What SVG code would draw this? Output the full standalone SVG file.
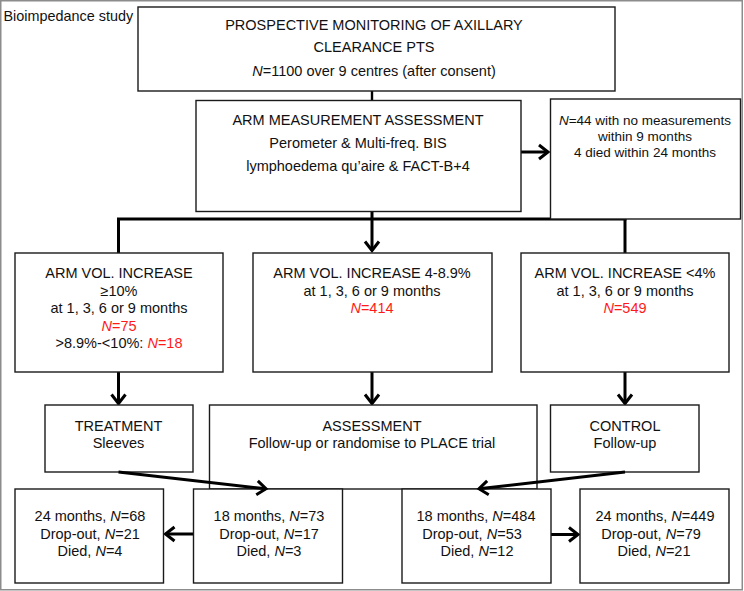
<svg xmlns="http://www.w3.org/2000/svg" width="744" height="591" viewBox="0 0 744 591">
<style>
.box{fill:#fff;stroke:#1a1a1a;stroke-width:1.4}
.t{font-family:"Liberation Sans",Arial,sans-serif;font-size:14.5px;fill:#111;text-anchor:middle}
.s{font-size:13.5px}
.r{fill:#ff1a1a}
.i{font-style:italic}
.c{fill:none;stroke:#000;stroke-width:3}
.c2{fill:none;stroke:#000;stroke-width:2.4}
</style>
<defs>
<marker id="ah" markerUnits="userSpaceOnUse" markerWidth="20" markerHeight="20" viewBox="-12 -10 14 20" refX="0" refY="0" orient="auto">
<path d="M-9,-7 L0,0 L-9,7" fill="none" stroke="#000" stroke-width="3"/>
</marker>
</defs>
<rect x="0.75" y="0.75" width="741.5" height="589" fill="#fff" stroke="#8c8c8c" stroke-width="1.5"/>
<text class="t" x="3.5" y="21" style="text-anchor:start;font-size:14.4px">Bioimpedance study</text>

<g id="connectors">
<line class="c2" x1="372" y1="91" x2="372" y2="100.5"/>
<line class="c" x1="521" y1="152" x2="548" y2="152" marker-end="url(#ah)"/>
<line class="c" x1="372" y1="211.5" x2="372" y2="250.5" marker-end="url(#ah)"/>
<line class="c" x1="117" y1="219" x2="626.5" y2="219"/>
<line class="c" x1="118.5" y1="219" x2="118.5" y2="253"/>
<line class="c" x1="625" y1="219" x2="625" y2="253"/>
<line class="c" x1="118.5" y1="372" x2="118.5" y2="403.5" marker-end="url(#ah)"/>
<line class="c" x1="372" y1="372" x2="372" y2="403.5" marker-end="url(#ah)"/>
<line class="c" x1="625" y1="372" x2="625" y2="403.5" marker-end="url(#ah)"/>
<line class="c" x1="193.5" y1="534" x2="165.5" y2="534" marker-end="url(#ah)"/>
<line class="c" x1="551" y1="534.5" x2="578" y2="534.5" marker-end="url(#ah)"/>
</g>

<g id="top">
<rect class="box" x="138" y="7" width="477" height="84"/>
<text class="t" x="374" y="29.5">PROSPECTIVE MONITORING OF AXILLARY</text>
<text class="t" x="374" y="52">CLEARANCE PTS</text>
<text class="t" x="374" y="76"><tspan class="i">N</tspan>=1100 over 9 centres (after consent)</text>
</g>

<g id="arm">
<rect class="box" x="196" y="100.5" width="325" height="111"/>
<text class="t" x="358" y="125">ARM MEASUREMENT ASSESSMENT</text>
<text class="t" x="358" y="148">Perometer &amp; Multi-freq. BIS</text>
<text class="t" x="358" y="170.5">lymphoedema qu’aire &amp; FACT-B+4</text>
</g>

<g id="nomeas">
<rect class="box" x="550.5" y="99" width="190" height="120"/>
<text class="t s" x="645" y="125"><tspan class="i">N</tspan>=44 with no measurements</text>
<text class="t s" x="645" y="141">within 9 months</text>
<text class="t s" x="645" y="157">4 died within 24 months</text>
</g>

<g id="inc10">
<rect class="box" x="15" y="253" width="208" height="119"/>
<text class="t" x="119" y="278">ARM VOL. INCREASE</text>
<text class="t" x="119" y="295.5">≥10%</text>
<text class="t" x="119" y="313">at 1, 3, 6 or 9 months</text>
<text class="t r" x="119" y="330.5"><tspan class="i">N</tspan>=75</text>
<text class="t" x="119" y="348">&gt;8.9%-&lt;10%: <tspan class="r"><tspan class="i">N</tspan>=18</tspan></text>
</g>

<g id="inc4">
<rect class="box" x="253" y="253" width="239" height="119"/>
<text class="t" x="372" y="278">ARM VOL. INCREASE 4-8.9%</text>
<text class="t" x="372" y="295.5">at 1, 3, 6 or 9 months</text>
<text class="t r" x="372" y="313"><tspan class="i">N</tspan>=414</text>
</g>

<g id="inclt4">
<rect class="box" x="521" y="253" width="208" height="119"/>
<text class="t" x="625" y="278">ARM VOL. INCREASE &lt;4%</text>
<text class="t" x="625" y="295.5">at 1, 3, 6 or 9 months</text>
<text class="t r" x="625" y="313"><tspan class="i">N</tspan>=549</text>
</g>

<g id="assessment">
<rect class="box" x="209.5" y="405" width="327.5" height="84"/>
<text class="t" x="372" y="431">ASSESSMENT</text>
<text class="t" x="372" y="448">Follow-up or randomise to PLACE trial</text>
</g>

<g id="treatment">
<rect class="box" x="45" y="405" width="148" height="67"/>
<text class="t" x="118.5" y="431">TREATMENT</text>
<text class="t" x="118.5" y="448">Sleeves</text>
</g>

<g id="control">
<rect class="box" x="550.5" y="405" width="148.5" height="67"/>
<text class="t" x="625" y="431">CONTROL</text>
<text class="t" x="625" y="448">Follow-up</text>
</g>

<g id="t24">
<rect class="box" x="15" y="489" width="148.5" height="94"/>
<text class="t" x="90" y="521">24 months, <tspan class="i">N</tspan>=68</text>
<text class="t" x="90" y="538.5">Drop-out, <tspan class="i">N</tspan>=21</text>
<text class="t" x="90" y="556">Died, <tspan class="i">N</tspan>=4</text>
</g>

<g id="t18">
<rect class="box" x="193.5" y="489" width="149" height="94"/>
<text class="t" x="269" y="521">18 months, <tspan class="i">N</tspan>=73</text>
<text class="t" x="269" y="538.5">Drop-out, <tspan class="i">N</tspan>=17</text>
<text class="t" x="269" y="556">Died, <tspan class="i">N</tspan>=3</text>
</g>

<g id="c18">
<rect class="box" x="402" y="489" width="149" height="94"/>
<text class="t" x="476" y="521">18 months, <tspan class="i">N</tspan>=484</text>
<text class="t" x="472" y="538.5">Drop-out, <tspan class="i">N</tspan>=53</text>
<text class="t" x="477" y="556">Died, <tspan class="i">N</tspan>=12</text>
</g>

<g id="c24">
<rect class="box" x="580" y="489" width="149" height="94"/>
<text class="t" x="655" y="521">24 months, <tspan class="i">N</tspan>=449</text>
<text class="t" x="651" y="538.5">Drop-out, <tspan class="i">N</tspan>=79</text>
<text class="t" x="654" y="556">Died, <tspan class="i">N</tspan>=21</text>
</g>

<g id="connectors-diag">
<line class="c" x1="118.5" y1="472" x2="266" y2="488.8" marker-end="url(#ah)"/>
<line class="c" x1="625" y1="472" x2="479" y2="488.8" marker-end="url(#ah)"/>
</g>
</svg>
